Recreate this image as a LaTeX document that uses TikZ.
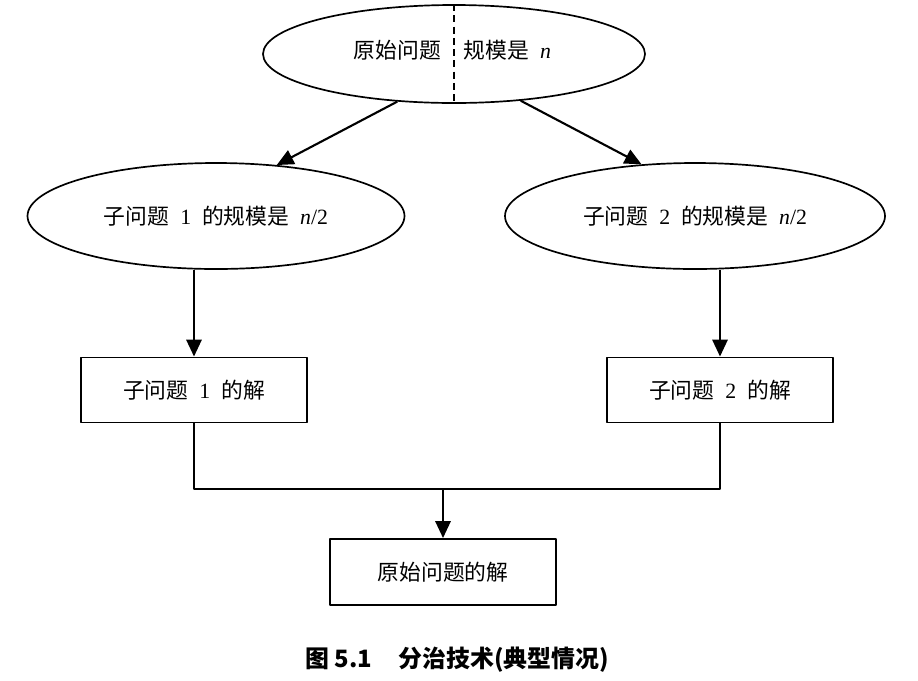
\documentclass[tikz,border=0pt]{standalone}
\usepackage{fontspec}
\setmainfont{Liberation Serif}
\newfontfamily\cjk{Noto Sans CJK SC}
\usetikzlibrary{shapes.geometric,arrows.meta}
\newcommand{\zh}[1]{{\cjk #1}}
\tikzset{
  oval/.style={ellipse, draw, line width=1.2pt, inner sep=0pt, minimum height=106*0.025cm},
  box/.style={rectangle, draw, line width=1.4pt, inner sep=0pt, minimum width=226*0.025cm, minimum height=65*0.025cm},
  link/.style={line width=1.5pt, -{Triangle[length=4.2mm,width=3.8mm]}},
}
\begin{document}
\begin{tikzpicture}[x=0.025cm, y=-0.025cm, font=\fontsize{15.5}{18}\selectfont, line join=round]
	\useasboundingbox (0,0) rectangle (918,680);
	% ellipses
	\node[oval, minimum width=382*0.025cm, minimum height=98*0.025cm] (top) at (454,54) {};
	\node[anchor=east] (topl) at ([xshift=-0.2cm,yshift=0.1cm]top.center) {\zh{原始问题}};
	\node[anchor=west] (topr) at ([xshift=0.12cm,yshift=0.1cm]top.center) {\zh{规模是}\enspace\textit{n}};
	\draw[line width=1.4pt, dash pattern=on 5pt off 3pt] (top.north) -- (top.south);
	\node[oval, minimum width=377*0.025cm] (sub1) at (216,216) {\zh{子问题}\enspace 1\enspace\zh{的规模是}\enspace\textit{n}/2};
	\node[oval, minimum width=380*0.025cm] (sub2) at (695,216) {\zh{子问题}\enspace 2\enspace\zh{的规模是}\enspace\textit{n}/2};
	% boxes
	\node[box] (sol1) at (194,390) {\zh{子问题}\enspace 1\enspace\zh{的解}};
	\node[box] (sol2) at (720,390) {\zh{子问题}\enspace 2\enspace\zh{的解}};
	\node[box, minimum height=66*0.025cm] (sol) at (443,572) {\zh{原始问题的解}};
	\coordinate (join) at (sol.north |- 0,489);
	% connectors
	\draw[link] (top.220) -- (sub1.40);
	\draw[link] (top.325) -- (sub2.136);
	\draw[link] (sol1.north |- sub1.south) -- (sol1.north);
	\draw[link] (sol2.north |- sub2.south) -- (sol2.north);
	\draw[line width=1.4pt] (sol1.south) |- (join) -| (sol2.south);
	\draw[link] (join) -- (sol.north);
	\node[font=\fontsize{17}{20}\cjk\bfseries] (cap) at (457,660) {图 5.1\hspace{1.1em}分治技术(典型情况)};
\end{tikzpicture}
\end{document}
